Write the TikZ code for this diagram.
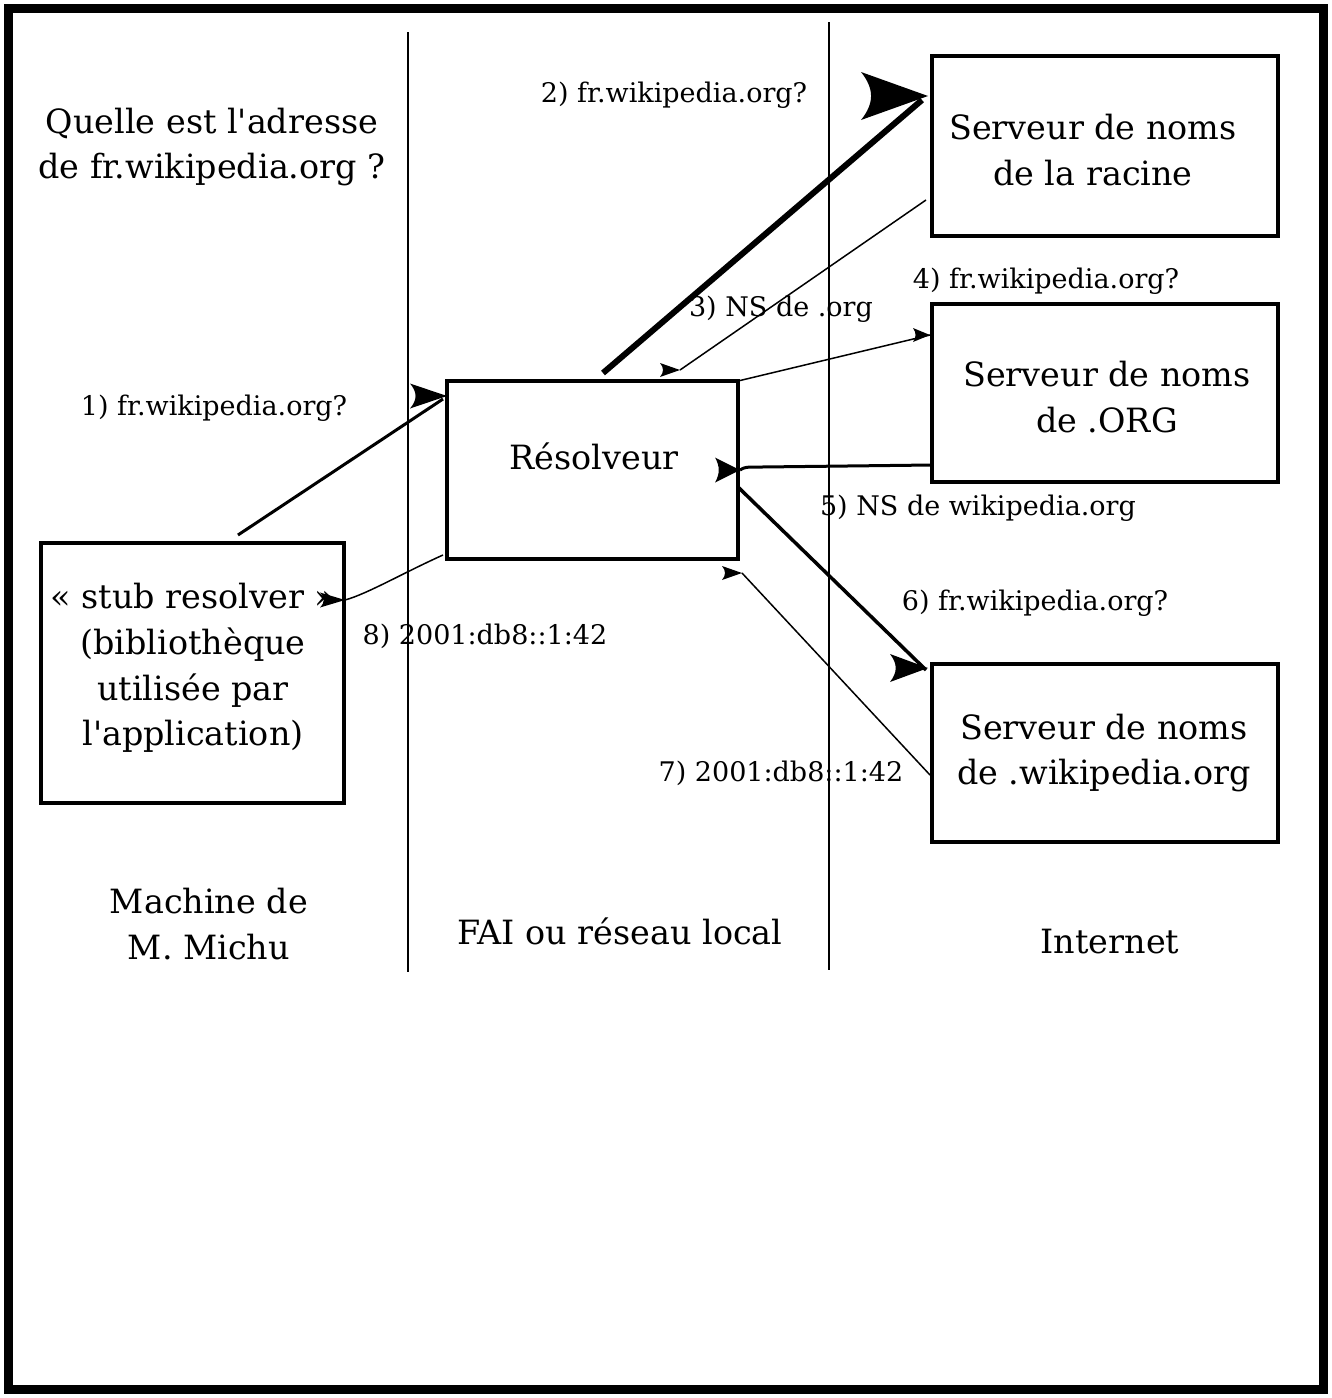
\documentclass[tikz,border=0pt]{standalone}
\usepackage{fontspec}
\setmainfont{DejaVu Serif}[Ligatures=TeXOff]
\usetikzlibrary{calc}
\tikzset{
  box/.style={draw, line width=2pt, inner sep=0pt, outer sep=0pt},
  big/.style={font=\fontsize{16.7}{22.8}\selectfont, align=center, inner sep=0pt},
  lbl/.style={font=\fontsize{13.5}{16}\selectfont, inner sep=0pt},
  thinline/.style={line width=0.75pt},
  pics/hd/.style args={#1/#2}{code={
    \fill (0,0) -- (-#1,-#2) .. controls (-0.8*#1,-0.3*#2) and (-0.8*#1,0.3*#2) .. (-#1,#2) -- cycle;}}
}
\begin{document}
\begin{tikzpicture}[x=0.5pt,y=-0.5pt]
\useasboundingbox (0,0) rectangle (1332,1398);
\draw[line width=4.5pt] (8.5,8.5) rectangle (1323.5,1389.5);
% lanes
\draw[line width=1pt] (408,32) -- (408,972);
\draw[line width=1pt] (829,22) -- (829,970);
% boxes
\node[box, minimum width=173pt, minimum height=90pt] (root) at (1105,146) {};
\node[box, minimum width=173pt, minimum height=89pt] (org) at (1105,393) {};
\node[box, minimum width=173pt, minimum height=89pt] (wiki) at (1105,753) {};
\node[box, minimum width=145.5pt, minimum height=89pt] (res) at (592.5,470) {};
\node[box, minimum width=151.5pt, minimum height=130pt] (stub) at (192.5,673) {};
% texts
\node[big] (q) at (212,147) {Quelle est l'adresse\\de fr.wikipedia.org ?};
\node[big] (troot) at (1093,150) {Serveur de noms\\de la racine};
\node[big] (torg) at (1107,397) {Serveur de noms\\de .ORG};
\node[big] (twiki) at (1104,753) {Serveur de noms\\de .wikipedia.org};
\node[big] (tres) at (594,456) {Résolveur};
\node[big] (tstub) at (193,668) {« stub resolver »\\(bibliothèque\\utilisée par\\l'application)};
\node[big] (tmach) at (209,924) {Machine de\\M. Michu};
\node[big] (tfai) at (620,931) {FAI ou réseau local};
\node[big] (tint) at (1110,942) {Internet};
% labels
\node[lbl] (l1) at (214,408) {1) fr.wikipedia.org?};
\node[lbl] (l2) at (674,95) {2) fr.wikipedia.org?};
\node[lbl] (l3) at (781,309) {3) NS de .org};
\node[lbl] (l4) at (1046,281) {4) fr.wikipedia.org?};
\node[lbl] (l5) at (978,508) {5) NS de wikipedia.org};
\node[lbl] (l6) at (1035,603) {6) fr.wikipedia.org?};
\node[lbl] (l7) at (781,773) {7) 2001:db8::1:42};
\node[lbl] (l8) at (485,636) {8) 2001:db8::1:42};
% connector end points
\coordinate (s1) at ($(stub.north)+(45.5,-8)$);
\coordinate (e1) at ($(res.north west)+(0,15)$);
\coordinate (s2) at ($(res.north west)+(156,-8)$);
\coordinate (e2) at ($(root.north west)+(-4,40)$);
\coordinate (s3) at ($(root.west)+(-6,54)$);
\coordinate (e3) at ($(res.north west)+(233,-11)$);
\coordinate (s4) at (res.north east);
\coordinate (e4) at ($(org.north west)+(-2,31)$);
\coordinate (s5) at ($(org.south west)+(0,-17)$);
\coordinate (e5) at ($(res.east)+(2,0)$);
\coordinate (s6) at ($(res.east)+(0,17)$);
\coordinate (e6) at ($(wiki.north west)+(-4,4)$);
\coordinate (s7) at ($(wiki.west)+(-2,22)$);
\coordinate (e7) at ($(res.south east)+(4,14)$);
\coordinate (s8) at ($(res.south west)+(-4,-4)$);
\coordinate (e8) at ($(stub.east)+(1,-73)$);
% connectors
\draw[line width=1.5pt] (s1) -- ($(e1)+(-4,3)$);
\pic at (e1) {hd=37/12.5};
\draw[line width=3pt] (s2) -- ($(e2)+(-6,4)$);
\pic at (e2) {hd=67/24};
\draw[thinline] (s3) -- (e3);
\pic at (e3) {hd=20/7};
\draw[thinline] (s4) -- (e4);
\pic at (e4) {hd=17/7};
\draw[line width=1.5pt] (s5) -- ($(s5)+(-170,2)$) .. controls ($(e5)+(5,-3)$) .. (e5);
\pic at (e5) {hd=25/12.5};
\draw[line width=1.75pt] (s6) -- ($(e6)+(-2,2)$);
\pic at (e6) {hd=38/14};
\draw[thinline] (s7) -- (e7);
\pic at (e7) {hd=20/7};
\draw[thinline] (s8) .. controls ($(s8)+(-40,18)$) and ($(e8)+(22,-6)$) .. (e8);
\pic at (e8) {hd=25/7.5};
\end{tikzpicture}
\end{document}
